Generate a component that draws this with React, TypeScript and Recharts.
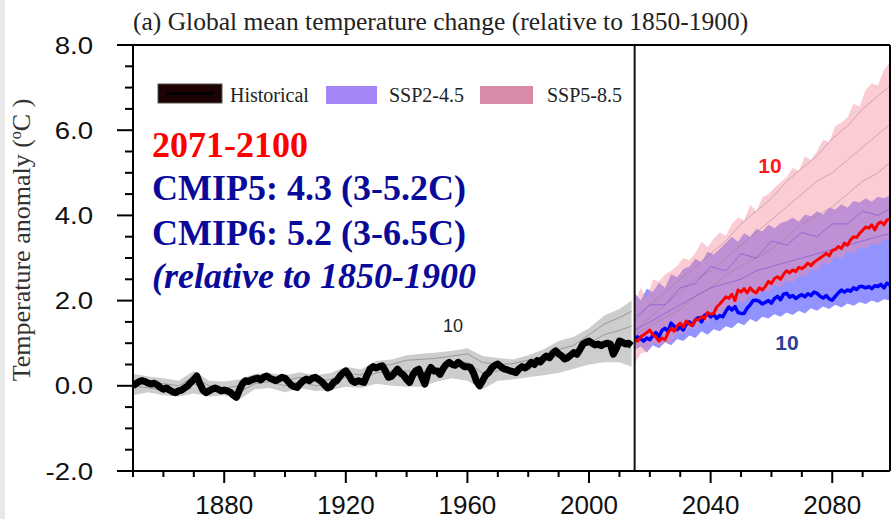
import React from 'react';
import { ComposedChart, Area, Line, XAxis, YAxis, ReferenceLine } from 'recharts';

const W = 891;
const H = 519;

// annual ensemble means
const histStart = 1850;
const historical = [
  0.0, 0.05, 0.1, 0.12, 0.1, 0.06, 0.04, 0.06, 0.02, -0.04,
  -0.08, -0.05, -0.1, -0.14, -0.16, -0.12, -0.1, -0.05, 0.0, 0.08,
  0.15, 0.23, 0.05, -0.1, -0.16, -0.12, -0.08, -0.05, -0.08, -0.12,
  -0.1, -0.12, -0.15, -0.22, -0.27, -0.1, 0.05, 0.12, 0.1, 0.14,
  0.16, 0.18, 0.14, 0.2, 0.23, 0.18, 0.15, 0.12, 0.16, 0.2,
  0.18, 0.1, 0.02, -0.02, -0.04, 0.05, 0.12, 0.16, 0.12, 0.18,
  0.2, 0.15, 0.1, 0.02, -0.05, -0.02, 0.08, 0.12, 0.22, 0.3,
  0.35, 0.25, 0.12, 0.08, 0.12, 0.1, 0.08, 0.25, 0.4, 0.45,
  0.42, 0.45, 0.47, 0.35, 0.2, 0.22, 0.3, 0.39, 0.3, 0.25,
  0.15, 0.08, 0.25, 0.35, 0.39, 0.2, 0.04, 0.3, 0.43, 0.35,
  0.35, 0.27, 0.4, 0.5, 0.55, 0.5, 0.48, 0.55, 0.5, 0.45,
  0.45, 0.43, 0.3, 0.1, 0.0, 0.12, 0.25, 0.31, 0.42, 0.48,
  0.51, 0.45, 0.4, 0.38, 0.35, 0.33, 0.31, 0.4, 0.45, 0.42,
  0.47, 0.55, 0.5, 0.59, 0.56, 0.64, 0.7, 0.66, 0.76, 0.82,
  0.75, 0.7, 0.63, 0.66, 0.72, 0.78, 0.74, 0.85, 0.98, 1.02,
  1.05, 1.0, 0.96, 0.98, 0.94, 0.98, 1.0, 0.98, 0.74, 0.88,
  1.05, 1.02, 0.98, 1.0, 0.94,
];

const projStart = 2015;
const ssp245Mean = [
  1.12, 1.15, 1.1, 1.05, 1.12,
  1.08, 1.18, 1.25, 1.15, 1.3, 1.35, 1.28, 1.47, 1.4, 1.32,
  1.38, 1.31, 1.45, 1.5, 1.42, 1.55, 1.6, 1.5, 1.65, 1.7,
  1.62, 1.68, 1.58, 1.65, 1.62, 1.75, 1.85, 1.78, 1.86, 1.72,
  1.7, 1.7, 1.82, 1.9, 2.0, 2.01, 1.98, 1.92, 1.96, 2.0,
  1.94, 2.05, 2.1, 2.02, 2.15, 2.17, 2.08, 2.12, 2.05, 2.1,
  2.14, 2.09, 2.16, 2.12, 2.2, 2.17, 2.1, 2.06, 2.12, 2.04,
  2.01, 2.1, 2.18, 2.25, 2.2, 2.25, 2.22, 2.3, 2.26, 2.33,
  2.33, 2.3, 2.33, 2.28, 2.35, 2.33, 2.38, 2.3, 2.41, 2.36,
];
const ssp585Mean = [
  1.08, 1.05, 1.15, 1.2, 1.25,
  1.31, 1.2, 1.15, 1.05, 1.12, 1.08, 1.25, 1.35, 1.28, 1.4,
  1.47, 1.38, 1.52, 1.45, 1.42, 1.55, 1.55, 1.62, 1.58, 1.72,
  1.68, 1.7, 1.85, 1.92, 2.0, 2.09, 2.05, 2.15, 2.0, 2.25,
  2.2, 2.28, 2.18, 2.3, 2.22, 2.18, 2.3, 2.25, 2.33, 2.45,
  2.4, 2.52, 2.56, 2.5, 2.62, 2.7, 2.65, 2.72, 2.68, 2.78,
  2.75, 2.8, 2.88, 2.82, 2.9, 2.95, 3.0, 3.05, 3.11, 3.05,
  3.18, 3.2, 3.27, 3.22, 3.35, 3.3, 3.42, 3.5, 3.48, 3.58,
  3.65, 3.73, 3.7, 3.78, 3.66, 3.8, 3.85, 3.78, 3.89, 3.92,
];

// model spread, historical
const histBandYears = [
  1850, 1855, 1860, 1865, 1870, 1875, 1880, 1885, 1890, 1895, 1900, 1905,
  1910, 1915, 1920, 1925, 1930, 1935, 1940, 1945, 1950, 1955, 1960, 1965,
  1970, 1975, 1980, 1985, 1990, 1995, 2000, 2005, 2010, 2014,
];
const histLow = [
  -0.22, -0.15, -0.22, -0.25, -0.18, -0.25, -0.22, -0.32, -0.08, -0.05, -0.15, -0.05,
  -0.12, -0.1, -0.02, -0.05, 0.05, 0.0, -0.02, -0.02, 0.1, 0.18, 0.12, -0.08,
  0.12, 0.15, 0.2, 0.25, 0.3, 0.4, 0.5, 0.55, 0.55, 0.45,
];
const histHigh = [
  0.28, 0.22, 0.18, 0.12, 0.35, 0.12, 0.1, 0.15, 0.28, 0.3, 0.25, 0.32,
  0.25, 0.3, 0.45, 0.38, 0.58, 0.62, 0.72, 0.75, 0.78, 0.82, 0.88, 0.7,
  0.65, 0.62, 0.72, 0.85, 1.05, 1.15, 1.35, 1.65, 1.8, 2.0,
];
const histMemberA = [
  0.1, 0.08, 0.05, 0.0, 0.2, 0.0, -0.05, 0.0, 0.15, 0.18, 0.12, 0.2,
  0.1, 0.15, 0.3, 0.25, 0.45, 0.5, 0.6, 0.62, 0.65, 0.7, 0.75, 0.55,
  0.5, 0.52, 0.6, 0.7, 0.85, 0.95, 1.2, 1.45, 1.6, 1.75,
];
const histMemberB = [
  0.0, -0.05, -0.1, -0.12, 0.05, -0.1, -0.15, -0.15, 0.05, 0.1, 0.0, 0.1,
  0.0, 0.05, 0.2, 0.15, 0.3, 0.35, 0.35, 0.3, 0.4, 0.5, 0.55, 0.3,
  0.35, 0.4, 0.45, 0.6, 0.7, 0.8, 1.0, 1.2, 1.3, 1.4,
];

// model spread, scenarios (every second year 2015-2099)
const projBandYears = [
  2015, 2017, 2019, 2021, 2023, 2025, 2027, 2029, 2031, 2033, 2035,
  2037, 2039, 2041, 2043, 2045, 2047, 2049, 2051, 2053, 2055, 2057,
  2059, 2061, 2063, 2065, 2067, 2069, 2071, 2073, 2075, 2077, 2079,
  2081, 2083, 2085, 2087, 2089, 2091, 2093, 2095, 2097, 2099,
];
const ssp245Low = [
  0.84, 0.92, 0.78, 0.95, 0.88, 1.02, 0.95, 1.1, 1.05, 1.18, 1.12,
  1.28, 1.2, 1.33, 1.28, 1.4, 1.35, 1.48, 1.42, 1.57, 1.5, 1.62,
  1.58, 1.68, 1.62, 1.72, 1.66, 1.76, 1.7, 1.82, 1.76, 1.86, 1.8,
  1.9, 1.84, 1.93, 1.88, 1.97, 1.92, 2.0, 1.95, 2.03, 2.0,
];
const ssp245High = [
  2.18, 2.0, 2.28, 2.2, 2.42, 2.3, 2.62, 2.55, 2.74, 2.8, 2.98,
  2.9, 3.15, 3.08, 3.22, 3.35, 3.5, 3.38, 3.58, 3.5, 3.68, 3.62,
  3.78, 3.7, 3.82, 3.86, 3.95, 3.85, 4.02, 3.98, 4.1, 4.02, 4.18,
  4.14, 4.26, 4.18, 4.34, 4.3, 4.4, 4.32, 4.44, 4.4, 4.46,
];
const ssp585Low = [
  0.53, 0.75, 0.8, 1.0, 0.95, 1.0, 1.02, 1.25, 1.2, 1.36, 1.32,
  1.5, 1.48, 1.66, 1.62, 1.82, 1.78, 1.98, 1.95, 2.14, 2.08, 2.26,
  2.2, 2.38, 2.32, 2.48, 2.42, 2.58, 2.56, 2.74, 2.7, 2.88, 2.86,
  3.03, 2.98, 3.15, 3.1, 3.25, 3.2, 3.35, 3.3, 3.44, 3.42,
];
const ssp585High = [
  1.94, 2.3, 2.05, 2.5, 2.45, 2.62, 2.7, 2.82, 3.0, 2.95, 3.12,
  3.38, 3.25, 3.45, 3.6, 3.52, 3.8, 3.95, 3.88, 4.25, 4.1, 4.42,
  4.5, 4.65, 4.78, 4.9, 5.12, 5.05, 5.38, 5.3, 5.5, 5.78, 5.72,
  6.1, 6.18, 6.3, 6.62, 6.55, 6.95, 7.1, 7.05, 7.42, 7.6,
];

// individual model runs (every fifth year)
const memberYears = [
  2015, 2020, 2025, 2030, 2035, 2040, 2045, 2050, 2055,
  2060, 2065, 2070, 2075, 2080, 2085, 2090, 2095, 2100,
];
const ssp585MemberA = [1.5, 1.9, 2.2, 2.5, 2.8, 3.1, 3.4, 3.8, 4.1, 4.4, 4.8, 5.1, 5.4, 5.8, 6.1, 6.5, 6.8, 7.1];
const ssp585MemberB = [1.3, 1.6, 1.9, 2.2, 2.5, 2.7, 3.0, 3.3, 3.6, 3.9, 4.2, 4.5, 4.8, 5.0, 5.3, 5.6, 5.9, 6.2];
const ssp585MemberC = [1.2, 1.4, 1.6, 1.8, 2.1, 2.3, 2.6, 2.8, 3.0, 3.2, 3.5, 3.8, 4.0, 4.2, 4.5, 4.8, 5.0, 5.3];
const ssp245MemberA = [1.6, 1.9, 1.9, 2.3, 2.4, 2.8, 2.7, 3.1, 3.0, 3.4, 3.3, 3.6, 3.5, 3.8, 3.8, 4.1, 4.0, 4.2];
const ssp245MemberB = [1.3, 1.5, 1.7, 1.9, 2.1, 2.3, 2.4, 2.5, 2.7, 2.8, 2.9, 3.0, 3.1, 3.2, 3.3, 3.4, 3.5, 3.6];

const xTicks = [
  1850, 1860, 1870, 1880, 1890, 1900, 1910, 1920, 1930, 1940, 1950, 1960, 1970,
  1980, 1990, 2000, 2010, 2020, 2030, 2040, 2050, 2060, 2070, 2080, 2090,
];
const xLabelYears = [1880, 1920, 1960, 2000, 2040, 2080];
const yTicks = [-2, -1.5, -1, -0.5, 0, 0.5, 1, 1.5, 2, 2.5, 3, 3.5, 4, 4.5, 5, 5.5, 6, 6.5, 7, 7.5, 8];
const yLabelValues = [-2, 0, 2, 4, 6, 8];

const annual = (start: number, values: number[]) => values.map((v, i) => ({ year: start + i, value: v }));
const paired = (years: number[], values: number[]) => years.map((y, i) => ({ year: y, value: values[i] }));
const ranged = (years: number[], lo: number[], hi: number[]) =>
  years.map((y, i) => ({ year: y, range: [lo[i], hi[i]] }));

const histData = annual(histStart, historical);
const ssp245Data = annual(projStart, ssp245Mean);
const ssp585Data = annual(projStart, ssp585Mean);
const histBand = ranged(histBandYears, histLow, histHigh);
const ssp245Band = ranged(projBandYears, ssp245Low, ssp245High);
const ssp585Band = ranged(projBandYears, ssp585Low, ssp585High);

const SERIF = '"Liberation Serif", "Times New Roman", serif';
const SANS = '"Liberation Sans", Arial, sans-serif';

const XTick = (props: any) => {
  const { x, y, payload } = props;
  const major = xLabelYears.includes(payload.value);
  return (
    <g>
      <line x1={x} x2={x} y1={y} y2={y + (major ? 12 : 6)} stroke="#000" strokeWidth={2} />
      {major && (
        <text x={x} y={y + 43} textAnchor="middle" fontFamily={SANS} fontSize={26} fill="#111">
          {payload.value}
        </text>
      )}
    </g>
  );
};

const YTick = (props: any) => {
  const { x, y, payload } = props;
  const major = yLabelValues.includes(payload.value);
  return (
    <g>
      <line x1={x} x2={x - (major ? 16 : 8)} y1={y} y2={y} stroke="#000" strokeWidth={2} />
      {major && (
        <text
          transform={`translate(${x - 40},${y + 8.5}) scale(1.15,1)`}
          textAnchor="end"
          fontFamily={SANS}
          fontSize={24}
          fill="#111"
        >
          {payload.value.toFixed(1)}
        </text>
      )}
    </g>
  );
};

const member = (key: string, data: any[], stroke: string, opacity: number) => (
  <Line
    key={key}
    data={data}
    dataKey="value"
    stroke={stroke}
    strokeOpacity={opacity}
    strokeWidth={1}
    dot={false}
    activeDot={false}
    isAnimationActive={false}
  />
);

export default function App() {
  return (
    <div style={{ position: 'absolute', left: 0, top: 0, width: W, height: H, background: '#fff' }}>
      <div style={{ position: 'absolute', left: 0, top: 0, width: 5, height: H, background: '#e9e9e9' }} />
      <ComposedChart width={W} height={H} margin={{ top: 45, right: 1, bottom: 8, left: 73 }}>
        <XAxis
          dataKey="year"
          type="number"
          domain={[1850, 2099]}
          ticks={xTicks}
          interval={0}
          tick={<XTick />}
          tickLine={false}
          tickSize={0}
          tickMargin={0}
          height={40}
          axisLine={{ stroke: '#000', strokeWidth: 2 }}
          allowDataOverflow
        />
        <YAxis
          type="number"
          domain={[-2, 8]}
          ticks={yTicks}
          interval={0}
          tick={<YTick />}
          tickLine={false}
          tickSize={0}
          tickMargin={0}
          width={60}
          axisLine={{ stroke: '#000', strokeWidth: 2 }}
          allowDataOverflow
        />

        <Area data={histBand} dataKey="range" stroke="none" fill="#cdcdcd" fillOpacity={1} isAnimationActive={false} />
        {member('hA', paired(histBandYears, histMemberA), '#8c8c8c', 0.8)}
        {member('hB', paired(histBandYears, histMemberB), '#8c8c8c', 0.8)}

        <Area data={ssp245Band} dataKey="range" stroke="none" fill="#3a3aff" fillOpacity={0.55} isAnimationActive={false} />
        <Area data={ssp585Band} dataKey="range" stroke="none" fill="#f98ea0" fillOpacity={0.45} isAnimationActive={false} />
        {member('pA', paired(memberYears, ssp585MemberA), '#9a8088', 0.5)}
        {member('pB', paired(memberYears, ssp585MemberB), '#9a8088', 0.5)}
        {member('pC', paired(memberYears, ssp585MemberC), '#9a8088', 0.5)}
        {member('bA', paired(memberYears, ssp245MemberA), '#5a4ad0', 0.5)}
        {member('bB', paired(memberYears, ssp245MemberB), '#5a4ad0', 0.5)}

        <Line data={histData} dataKey="value" stroke="#000" strokeWidth={7} strokeLinejoin="round" dot={false} activeDot={false} isAnimationActive={false} />
        <Line data={ssp245Data} dataKey="value" stroke="#0000ff" strokeWidth={3.5} strokeLinejoin="round" dot={false} activeDot={false} isAnimationActive={false} />
        <Line data={ssp585Data} dataKey="value" stroke="#ff0000" strokeWidth={3} strokeLinejoin="round" dot={false} activeDot={false} isAnimationActive={false} />

        <ReferenceLine x={2015} stroke="#111" strokeWidth={2} />
        <ReferenceLine y={8} stroke="#000" strokeWidth={2} />
        <ReferenceLine x={2099} stroke="#000" strokeWidth={2} />
      </ComposedChart>

      <svg width={W} height={H} style={{ position: 'absolute', left: 0, top: 0, pointerEvents: 'none' }}>
        <text x={133} y={30} fontFamily={SERIF} fontSize={25.5} fill="#222">
          (a) Global mean temperature change (relative to 1850-1900)
        </text>
        <text transform="translate(30,240) rotate(-90)" textAnchor="middle" fontFamily={SERIF} fontSize={26} fill="#333">
          Temperature anomaly (<tspan fontSize={16} dy={-9}>o</tspan>
          <tspan dy={9}>C )</tspan>
        </text>

        <rect x={158} y={84} width={64} height={19} fill="#1c0202" stroke="#555" strokeWidth={1} />
        <line x1={166} x2={214} y1={93.5} y2={93.5} stroke="#000" strokeWidth={3} />
        <text x={230} y={102} fontFamily={SERIF} fontSize={20} fill="#222">Historical</text>
        <rect x={326} y={86} width={51} height={18} fill="#a385f5" />
        <text x={389} y={102} fontFamily={SERIF} fontSize={20} fill="#222">SSP2-4.5</text>
        <rect x={480} y={86} width={53} height={18} fill="#d88aa8" />
        <text x={547} y={102} fontFamily={SERIF} fontSize={20} fill="#222">SSP5-8.5</text>

        <text x={152} y={157} fontFamily={SERIF} fontSize={36} fontWeight="bold" fill="#ff0000">2071-2100</text>
        <text x={152} y={200} fontFamily={SERIF} fontSize={36} fontWeight="bold" fill="#0a0a9a">CMIP5: 4.3 (3-5.2C)</text>
        <text x={152} y={245} fontFamily={SERIF} fontSize={36} fontWeight="bold" fill="#0a0a9a">CMIP6: 5.2 (3-6.5C)</text>
        <text x={152} y={288} fontFamily={SERIF} fontSize={36} fontWeight="bold" fontStyle="italic" fill="#0a0a9a">(relative to 1850-1900</text>

        <text x={453} y={332} textAnchor="middle" fontFamily={SANS} fontSize={18} fill="#222">10</text>
        <text x={770} y={173} textAnchor="middle" fontFamily={SANS} fontSize={21} fontWeight="bold" fill="#ff1a1a">10</text>
        <text x={787} y={350} textAnchor="middle" fontFamily={SANS} fontSize={21} fontWeight="bold" fill="#2b3f94">10</text>
      </svg>
    </div>
  );
}
